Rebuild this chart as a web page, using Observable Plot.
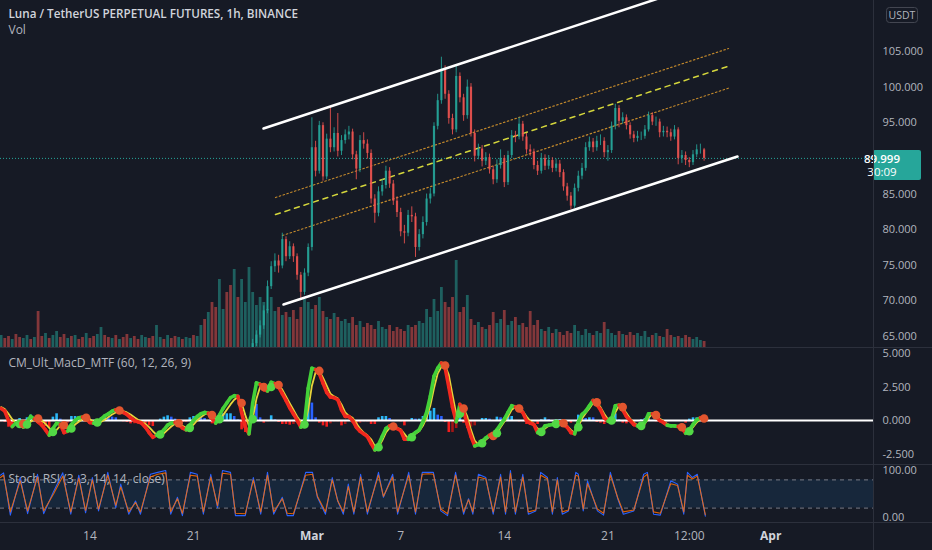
<!DOCTYPE html>
<html><head><meta charset="utf-8">
<script src="https://cdn.jsdelivr.net/npm/d3@7"></script>
<script src="https://cdn.jsdelivr.net/npm/@observablehq/plot@0.6"></script>
<style>
html,body{margin:0;padding:0;background:#161a25;}
#chart{position:relative;width:932px;height:550px;background:#161a25;overflow:hidden;font-family:"Open Sans",sans-serif;}
#chart svg{position:absolute;left:0;overflow:visible;}
.sep{position:absolute;background:#2c303c;}
</style></head><body>
<div id="chart"></div>
<script>
// ---------- DATA ----------
const HOUR = 3600e3;
const gridStart = Date.UTC(2022, 1, 8, 0);     // volume / MACD grid, 6h bins
const priceStart = Date.UTC(2022, 1, 25, 0);   // first visible candle, 6h bins
const binHours = 6;

const firstOpen = 63.2;
const closes = [
  64.0, 65.2, 66.5, 68.6, 72.0, 74.8, 75.6, 74.9, 78.6, 76.2,
  77.6, 76.2, 73.6, 71.2, 73.9, 77.5, 91.5, 88.2, 94.6, 87.4,
  92.7, 91.5, 93.5, 91.0, 92.5, 93.3, 93.7, 90.5, 88.5, 92.5,
  92.0, 90.7, 84.3, 82.3, 85.3, 86.2, 88.2, 86.4, 84.0, 82.4,
  79.7, 79.5, 82.0, 81.8, 77.5, 79.3, 81.0, 84.3, 85.0, 94.5,
  98.1, 102.5, 99.0, 95.6, 94.0, 101.5, 98.5, 96.0, 100.0, 93.5,
  90.3, 91.3, 89.6, 90.1, 88.4, 87.0, 89.0, 90.0, 86.6, 90.4,
  93.2, 93.0, 94.8, 93.0, 91.2, 90.9, 89.0, 88.2, 90.0, 88.9,
  89.7, 88.6, 89.2, 88.0, 86.0, 84.7, 83.3, 85.8, 87.5, 88.6,
  91.5, 92.3, 91.5, 92.4, 92.4, 90.8, 91.1, 94.5, 97.0, 95.2,
  95.7, 94.6, 93.3, 92.8, 93.1, 93.1, 94.0, 96.0, 95.1, 95.1,
  93.6, 93.8, 93.6, 93.0, 94.0, 90.0, 90.4, 89.7, 89.4, 90.5,
  91.2, 91.2, 89.999
];
const highs = [
  64.6, 65.8, 67.2, 69.3, 72.8, 75.5, 76.6, 76.4, 79.5, 79.0,
  78.3, 78.0, 76.6, 74.0, 74.5, 78.0, 95.7, 92.4, 95.2, 95.0,
  93.4, 97.1, 94.3, 96.3, 93.2, 94.0, 94.5, 94.1, 91.0, 93.2,
  93.6, 92.6, 91.2, 84.9, 86.0, 87.0, 88.9, 88.7, 86.9, 84.6,
  83.0, 80.6, 82.7, 83.2, 82.3, 80.0, 81.8, 85.0, 85.8, 95.0,
  99.0, 104.2, 103.0, 99.5, 96.2, 103.0, 102.0, 99.0, 101.0, 100.5,
  94.0, 92.0, 91.8, 90.8, 90.6, 88.9, 89.8, 91.2, 90.4, 91.0,
  93.9, 93.8, 95.7, 95.2, 93.5, 91.9, 91.3, 89.6, 90.7, 90.5,
  90.4, 90.1, 89.9, 89.7, 88.4, 86.5, 85.2, 86.4, 88.2, 89.3,
  92.2, 93.0, 92.8, 93.1, 93.3, 92.9, 91.8, 95.1, 97.6, 97.4,
  96.4, 96.1, 95.0, 93.8, 93.8, 93.7, 94.6, 96.5, 96.4, 95.8,
  95.5, 94.5, 94.4, 94.1, 94.6, 94.3, 91.1, 90.9, 90.1, 91.1,
  91.9, 92.0, 91.4
];
const lows = [
  62.8, 63.6, 64.8, 66.0, 68.2, 71.6, 74.0, 73.9, 74.5, 75.5,
  75.8, 75.4, 72.9, 70.2, 70.8, 73.4, 77.0, 87.4, 87.8, 86.8,
  87.0, 90.8, 90.9, 90.2, 90.4, 92.0, 92.6, 89.8, 87.0, 88.0,
  91.3, 89.9, 83.6, 80.9, 81.8, 84.7, 85.7, 85.8, 83.4, 81.7,
  79.0, 78.0, 79.0, 81.0, 76.1, 77.0, 78.7, 80.5, 83.6, 84.6,
  94.0, 97.6, 98.3, 94.8, 93.3, 93.6, 97.8, 95.2, 95.5, 93.0,
  89.5, 89.8, 88.8, 89.0, 87.8, 86.3, 86.5, 88.5, 85.9, 86.2,
  90.0, 92.2, 92.6, 92.4, 90.6, 90.3, 88.4, 87.6, 87.8, 88.3,
  88.4, 88.0, 88.1, 87.3, 85.4, 84.0, 82.8, 83.0, 85.3, 87.0,
  88.2, 91.0, 90.8, 91.0, 91.8, 90.1, 89.6, 90.7, 94.0, 94.3,
  94.8, 94.0, 92.7, 92.2, 92.3, 92.5, 92.7, 93.7, 94.6, 94.5,
  92.9, 93.0, 92.9, 92.4, 92.6, 89.1, 89.3, 89.0, 88.7, 89.0,
  90.1, 90.6, 89.6
];
const lastPrice = 89.999;
const countdown = "30:09";

const volumes = [
  12, 9, 11, 8, 13, 10, 9, 12, 8, 10,
  36, 11, 14, 9, 12, 16, 10, 13, 9, 11,
  12, 8, 10, 14, 9, 11, 13, 20, 12, 10,
  9, 12, 8, 10, 13, 9, 11, 8, 12, 10,
  9, 11, 22, 10, 8, 12, 9, 11, 10, 8,
  10, 9, 12, 11, 22,
  28, 35, 45, 40, 68, 38, 55, 62, 78,
  50, 68, 45, 80, 55, 42, 50,
  45, 38, 50, 36, 40, 32, 35, 30, 37, 28,
  40, 48, 45, 38, 42, 50, 36, 30, 28, 34,
  30, 26, 28, 24, 30, 22, 26, 20, 24,
  22, 18, 26, 20, 18, 22, 16, 20, 18, 16, 22,
  20, 22, 26, 24, 38, 30, 48, 36, 60, 45, 40, 50, 87, 35, 40,
  52, 28, 22, 25, 20, 18, 22, 35, 24, 28, 37, 22, 26, 30, 22,
  24, 20, 36, 22, 27, 18, 16, 20, 14, 18,
  15, 12, 16, 14, 22, 16, 12, 18, 14, 12, 16, 14, 25, 18, 14, 12, 16, 13, 12, 15,
  12, 14, 11, 16, 10, 12, 14, 11, 10, 18, 12, 10, 11, 9, 12, 10, 8, 10, 7, 6
];
// direction of the volume bars before the first visible candle (u = up, d = down)
const earlyVolDir = "uddudduudu" + "dduduuddud" + "uddudduudd" + "ududdudduu" + "dduududdud" + "uuduududdu" + "udduduuu";

const macdLine = [
  0.9, 0.7, 0.0, -0.45, -0.2, -0.1, -0.5, -0.1, 0.3, 0.1,
  -0.1, -0.35, -0.7, -1.1, -0.6, -0.2, -0.3, -0.9, -0.8, -0.3,
  0.0, 0.2, 0.25, 0.1, -0.15, -0.2, -0.1, 0.1, 0.35, 0.5,
  0.7, 0.8, 0.7, 0.6, 0.45, 0.2, 0.0, -0.1, -0.2, -0.5,
  -0.9, -1.25, -1.1, -0.95, -0.7, -0.35, -0.2, -0.15, -0.3, -0.55,
  -0.7, -0.35, 0.0, 0.3, 0.5, 0.6, 0.55, 0.15, -0.2, 0.4,
  0.9, 1.3, 1.7, 1.85, 1.8, 0.6, -0.5, -1.0, 1.3, 2.8,
  2.7, 2.3, 2.2, 2.85, 2.75, 2.5, 2.0, 1.5, 0.95, 0.5,
  0.05, -0.5, -0.2, 2.4, 3.9, 3.8, 3.5, 2.8, 2.1, 1.75,
  1.7, 1.55, 0.8, 0.3, 0.3, 0.0, -0.5, -0.8, -1.0, -1.2,
  -1.7, -2.2, -1.8, -1.2, -0.6, -0.4, -0.5, -0.6, -0.75, -1.4,
  -1.4, -1.1, -0.9, -0.7, -0.1, 0.6, 1.8, 3.3, 3.9, 4.3,
  3.95, 2.5, 1.0, -0.1, 1.2, 0.7, -0.3, -1.2, -1.9, -1.8,
  -1.55, -1.3, -1.1, -1.2, -0.7, -0.3, 0.1, 0.6, 1.1, 1.0,
  0.8, 0.6, 0.0, -0.2, -0.3, -0.9, -0.8, -0.4, -0.35, -0.3,
  -0.2, -0.1, -0.3, -0.5, -0.9, -1.0, -0.1, 0.45, 0.7, 1.1,
  1.5, 1.2, 0.8, 0.2, -0.05, 0.1, 1.1, 1.15, 0.8, 0.3,
  0.0, -0.3, -0.4, -0.35, -0.1, 0.5, 0.5, 0.3, 0.0, -0.15,
  -0.35, -0.4, -0.4, -0.45, -0.55, -0.95, -0.7, -0.3, 0.05, 0.2,
  0.1
];
const signalLine = [
  1.0, 0.85, 0.5, 0.1, -0.2, -0.25, -0.25, -0.3, -0.1, 0.1,
  0.15, 0.0, -0.25, -0.55, -0.85, -0.7, -0.4, -0.35, -0.6, -0.6,
  -0.3, -0.1, 0.1, 0.2, 0.1, -0.1, -0.15, -0.1, 0.05, 0.25,
  0.45, 0.6, 0.75, 0.7, 0.6, 0.45, 0.25, 0.05, -0.1, -0.25,
  -0.5, -0.8, -1.05, -1.05, -0.95, -0.7, -0.45, -0.25, -0.2, -0.4,
  -0.55, -0.55, -0.3, 0.0, 0.25, 0.45, 0.55, 0.4, 0.1, 0.1,
  0.4, 0.8, 1.2, 1.55, 1.75, 1.3, 0.4, -0.4, 0.1, 1.6,
  2.5, 2.5, 2.3, 2.5, 2.7, 2.65, 2.3, 1.8, 1.3, 0.8,
  0.3, -0.1, -0.3, 0.8, 2.6, 3.6, 3.7, 3.2, 2.6, 2.0,
  1.8, 1.65, 1.2, 0.6, 0.35, 0.2, -0.2, -0.6, -0.9, -1.1,
  -1.4, -1.9, -2.0, -1.5, -0.9, -0.55, -0.45, -0.55, -0.65, -1.0,
  -1.35, -1.25, -1.0, -0.8, -0.4, 0.2, 1.1, 2.4, 3.5, 4.0,
  4.1, 3.4, 1.9, 0.5, 0.5, 0.9, 0.3, -0.7, -1.5, -1.8,
  -1.7, -1.45, -1.2, -1.15, -0.95, -0.5, -0.1, 0.3, 0.8, 1.0,
  0.9, 0.7, 0.3, -0.05, -0.25, -0.6, -0.85, -0.6, -0.4, -0.3,
  -0.25, -0.15, -0.2, -0.4, -0.7, -0.95, -0.5, 0.15, 0.55, 0.9,
  1.3, 1.35, 1.0, 0.5, 0.1, 0.0, 0.6, 1.1, 1.0, 0.55,
  0.15, -0.15, -0.35, -0.4, -0.25, 0.2, 0.5, 0.4, 0.15, -0.05,
  -0.25, -0.4, -0.4, -0.45, -0.5, -0.75, -0.8, -0.5, -0.15, 0.1,
  0.15
];

// Stoch RSI turning points: hours after Feb 8 00:00 UTC
const stochHours = [
  -1, 4, 15, 31, 43, 59, 69, 85, 100, 113, 126, 137, 148, 158, 173, 186, 194, 207, 218, 226,
  242, 254, 267, 275, 286, 294, 307, 318, 328, 340, 351, 359, 372, 380, 396, 409, 421, 432, 442, 456,
  464, 474, 494, 505, 513, 526, 537, 546, 555, 563, 572, 583, 594, 612, 620, 635, 643, 661, 672, 683,
  693, 701, 713, 724, 737, 750, 758, 765, 774, 786, 798, 810, 818, 826, 834, 846, 855, 867, 875, 886,
  894, 902, 910, 920, 932, 936, 944, 951, 967, 977, 988, 1000, 1009, 1026, 1042, 1048, 1058, 1069, 1086, 1097,
  1107, 1113, 1121, 1129, 1142
];
const stochK = [
  90, 95, 5, 85, 8, 92, 8, 55, 95, 7, 90, 10, 85, 14, 96, 21, 71, 7, 35, 7,
  92, 96, 100, 7, 43, 4, 96, 92, 7, 92, 21, 100, 96, 4, 4, 85, 7, 96, 7, 43,
  4, 4, 96, 96, 43, 7, 85, 35, 7, 71, 7, 92, 7, 96, 43, 92, 7, 96, 7, 96,
  96, 96, 14, 4, 96, 7, 40, 7, 92, 85, 7, 92, 7, 100, 7, 92, 7, 14, 96, 85,
  7, 85, 7, 14, 96, 92, 14, 78, 14, 5, 96, 40, 7, 14, 92, 96, 7, 5, 78, 71,
  7, 96, 85, 92, 3
];
const stochD = [
  85, 90, 12, 78, 14, 86, 14, 50, 88, 12, 84, 15, 80, 18, 90, 26, 65, 12, 32, 12,
  86, 92, 95, 12, 40, 9, 90, 88, 12, 86, 25, 94, 92, 9, 8, 80, 12, 90, 12, 40,
  9, 8, 90, 92, 45, 12, 80, 35, 12, 66, 12, 86, 12, 90, 45, 86, 12, 90, 12, 92,
  93, 92, 18, 8, 90, 12, 38, 12, 86, 82, 12, 86, 12, 94, 12, 86, 12, 16, 90, 82,
  12, 80, 12, 16, 90, 88, 18, 72, 18, 9, 90, 42, 12, 16, 86, 92, 12, 9, 72, 68,
  12, 90, 82, 88, 6
];

// Channel drawings: [UTC date, price] end points
const upperChannel = [["2022-02-25T17:31Z", 94.19], ["2022-03-25T05:30Z", 113.0]];
const lowerChannel = [["2022-02-27T01:57Z", 69.49], ["2022-03-29T18:10Z", 90.26]];
const upperDotted  = [["2022-02-26T12:58Z", 84.51], ["2022-03-29T03:35Z", 105.42]];
const midDashed    = [["2022-02-26T12:58Z", 82.12], ["2022-03-29T06:49Z", 103.04]];
const lowerDotted  = [["2022-02-27T00:19Z", 79.18], ["2022-03-29T06:49Z", 99.95]];

// 90 and 110 sit under the price badge and the USDT badge in the reference
const priceTicks = [65, 70, 75, 80, 85, 95, 100, 105];
const macdTicks = [-2.5, 0, 2.5, 5];
const stochTicks = [0, 100];
const dayTickDates = ["2022-02-14", "2022-02-21", "2022-03-07", "2022-03-14", "2022-03-21", "2022-03-26T12:00Z"];
const dayTickLabels = ["14", "21", "7", "14", "21", "12:00"];
const monthTickDates = ["2022-03-01", "2022-04-01"];
const monthTickLabels = ["Mar", "Apr"];

const titleText = "Luna / TetherUS PERPETUAL FUTURES, 1h, BINANCE";
const volText = "Vol";
const macdText = "CM_Ult_MacD_MTF (60, 12, 26, 9)";
const stochText = "Stoch RSI (3, 3, 14, 14, close)";

// ---------- BUILD ----------
const BG = "#161a25";
const UP = "#26a69a", DOWN = "#ef5350";
const AXIS = "#b2b5be";
const FONT = "'Open Sans', sans-serif";
const xDomain = [new Date(Date.UTC(2022, 1, 7, 23, 2)), new Date(Date.UTC(2022, 3, 7, 22, 42))];
const W = 932, MR = 59;
const P = d => new Date(d);

const candles = closes.map((c, i) => ({
  t: new Date(priceStart + i * binHours * HOUR),
  o: i ? closes[i - 1] : firstOpen, c, h: highs[i], l: lows[i]
}));
const nEarly = Math.round((priceStart - gridStart) / (binHours * HOUR));
const volData = volumes.map((v, i) => {
  let up;
  if (i < nEarly) up = earlyVolDir[i] !== "d";
  else { const k = candles[i - nEarly]; up = k ? k.c >= k.o : true; }
  return { t: new Date(gridStart + i * binHours * HOUR), v, up };
});
const macdData = macdLine.map((m, i) => ({ t: new Date(gridStart + i * binHours * HOUR), m, s: signalLine[i], h: m - signalLine[i] }));
const segs = macdData.slice(1).map((d, i) => ({ a: macdData[i], b: d, bull: d.m >= d.s }));
const crosses = macdData.filter((d, i) => i > 0 && Math.sign(macdData[i - 1].h) !== Math.sign(d.h) && d.h !== 0)
  .map(d => ({ t: d.t, s: d.s, bull: d.h > 0 }));
const histColor = (d, i) => {
  const prev = i > 0 ? macdData[i - 1].h : d.h;
  if (d.h >= 0) return d.h >= prev ? "#29b6f6" : "#2962ff";
  return d.h < prev ? "#f21d1d" : "#a31515";
};
const stoch = stochHours.map((h, i) => ({ t: new Date(gridStart + h * HOUR), k: stochK[i], d: stochD[i] }));
const lineOf = arr => arr.map(([t, v]) => ({ t: P(t), v }));

const chart = document.getElementById("chart");
const baseStyle = { background: "transparent", color: AXIS, fontFamily: FONT, fontSize: "11px" };

// volume layer (own scale) under the price layer
const volPlot = Plot.plot({
  width: W, height: 347, margin: 0, marginRight: MR,
  style: baseStyle,
  x: { type: "utc", domain: xDomain, axis: null },
  y: { domain: [0, 347], axis: null },
  color: { type: "identity" },
  marks: [
    Plot.ruleX(volData, { x: "t", y1: 0, y2: "v", stroke: d => d.up ? "rgba(38,166,154,0.5)" : "rgba(239,83,80,0.5)", strokeWidth: 2.8 })
  ]
});
volPlot.style.top = "0px";
chart.appendChild(volPlot);

const mainPlot = Plot.plot({
  width: W, height: 347, margin: 0, marginRight: MR,
  style: baseStyle,
  x: { type: "utc", domain: xDomain, axis: null },
  y: { domain: [63.46, 112.16], axis: "right", ticks: priceTicks, tickFormat: d => d.toFixed(3), tickSize: 0, tickPadding: 9, label: null },
  color: { type: "identity" },
  marks: [
    Plot.text([titleText], { frameAnchor: "top-left", dx: 8, dy: 9, fill: "#d1d4dc", fontSize: 11.7, fontWeight: 600 }),
    Plot.text([volText], { frameAnchor: "top-left", dx: 8, dy: 25, fill: AXIS, fontSize: 12 }),
    Plot.ruleY([lastPrice], { stroke: UP, strokeDasharray: "1,2", strokeWidth: 1 }),
    Plot.line(lineOf(upperDotted), { x: "t", y: "v", stroke: "#c48a2c", strokeWidth: 1.2, strokeDasharray: "1.5,2.5", clip: true }),
    Plot.line(lineOf(midDashed), { x: "t", y: "v", stroke: "#d4d63c", strokeWidth: 1.5, strokeDasharray: "5,5", clip: true }),
    Plot.line(lineOf(lowerDotted), { x: "t", y: "v", stroke: "#c48a2c", strokeWidth: 1.2, strokeDasharray: "1.5,2.5", clip: true }),
    Plot.ruleX(candles, { x: "t", y1: "l", y2: "h", stroke: d => d.c >= d.o ? UP : DOWN, strokeWidth: 1, strokeOpacity: 0.85, clip: true }),
    Plot.ruleX(candles, { x: "t", y1: "o", y2: "c", stroke: d => d.c >= d.o ? UP : DOWN, strokeWidth: 2.2, strokeOpacity: 0.85, clip: true }),
    Plot.line(lineOf(upperChannel), { x: "t", y: "v", stroke: "#ffffff", strokeWidth: 2.5, clip: true }),
    Plot.line(lineOf(lowerChannel), { x: "t", y: "v", stroke: "#ffffff", strokeWidth: 2.5, clip: true })
  ]
});
mainPlot.style.top = "0px";
chart.appendChild(mainPlot);

// last price badge + currency badge, placed with the plot's own y scale
{
  const y = mainPlot.scale("y").apply(lastPrice);
  const x0 = mainPlot.scale("x").range[1];
  const svg = d3.select(mainPlot);
  const g = svg.append("g").attr("font-family", FONT);
  g.append("rect").attr("x", x0).attr("y", y - 8).attr("width", 48).attr("height", 30).attr("rx", 2).attr("fill", UP);
  g.append("text").attr("x", x0 + 9).attr("y", y + 5).attr("fill", "#ffffff").attr("font-size", 11.5).attr("font-weight", 600).text(lastPrice.toFixed(3));
  g.append("text").attr("x", x0 + 9).attr("y", y + 18.5).attr("fill", "#ffffff").attr("font-size", 11.5).text(countdown);
  g.append("rect").attr("x", x0 + 13.5).attr("y", 7.5).attr("width", 31).attr("height", 15).attr("rx", 3).attr("fill", BG).attr("stroke", "#434651");
  g.append("text").attr("x", x0 + 29).attr("y", 19).attr("text-anchor", "middle").attr("fill", AXIS).attr("font-size", 10.5).text("USDT");
}

const macdPlot = Plot.plot({
  width: W, height: 116, margin: 0, marginRight: MR,
  style: baseStyle,
  x: { type: "utc", domain: xDomain, axis: null },
  y: { domain: [-3.284, 5.373], axis: "right", ticks: macdTicks, tickFormat: d => d.toFixed(3), tickSize: 0, tickPadding: 9, label: null },
  color: { type: "identity" },
  marks: [
    Plot.text([macdText], { frameAnchor: "top-left", dx: 8, dy: 10, fill: AXIS, fontSize: 12 }),
    Plot.ruleX(macdData, { x: "t", y1: 0, y2: "h", stroke: histColor, strokeWidth: 2.6, clip: true }),
    Plot.ruleY([0], { stroke: "#ffffff", strokeWidth: 2 }),
    Plot.line(macdData, { x: "t", y: "s", stroke: "#e8d43a", strokeWidth: 1.8, clip: true }),
    Plot.link(segs, { x1: d => d.a.t, y1: d => d.a.m, x2: d => d.b.t, y2: d => d.b.m, stroke: d => d.bull ? "#43d138" : "#f0281e", strokeWidth: 3.6, strokeLinecap: "round", clip: true }),
    Plot.dot(crosses, { x: "t", y: "s", r: 4.3, fill: d => d.bull ? "#52d845" : "#e2552e", stroke: "none" })
  ]
});
macdPlot.style.top = "348px";
chart.appendChild(macdPlot);

const stochPlot = Plot.plot({
  width: W, height: 85, marginTop: 0, marginBottom: 28, marginLeft: 0, marginRight: MR,
  style: baseStyle,
  x: { type: "utc", domain: xDomain, axis: null },
  y: { domain: [-10.64, 110.64], axis: "right", ticks: stochTicks, tickFormat: d => d.toFixed(2), tickSize: 0, tickPadding: 9, label: null },
  color: { type: "identity" },
  marks: [
    Plot.rect([0], { x1: () => xDomain[0], x2: () => xDomain[1], y1: () => 20, y2: () => 80, fill: "rgba(33,150,243,0.11)" }),
    Plot.ruleY([20, 80], { stroke: "#787b86", strokeDasharray: "4,4", strokeWidth: 1 }),
    Plot.text([stochText], { frameAnchor: "top-left", dx: 8, dy: 9, fill: AXIS, fontSize: 12 }),
    Plot.line(stoch, { x: "t", y: "k", stroke: "#2962ff", strokeWidth: 1.1, clip: true }),
    Plot.line(stoch, { x: "t", y: "d", stroke: "#ff6d00", strokeWidth: 1.1, strokeOpacity: 0.85, clip: true }),
    Plot.text(dayTickDates, { x: d => P(d), text: (d, i) => dayTickLabels[i], frameAnchor: "bottom", lineAnchor: "middle", dy: 14, fill: AXIS, fontSize: 12 }),
    Plot.text(monthTickDates, { x: d => P(d), text: (d, i) => monthTickLabels[i], frameAnchor: "bottom", lineAnchor: "middle", dy: 14, fill: "#d1d4dc", fontSize: 12, fontWeight: 700 })
  ]
});
stochPlot.style.top = "465px";
chart.appendChild(stochPlot);

// pane separators and price-scale border
[[0, 347, W, 1], [0, 464, W, 1], [0, 522, W, 1], [873, 0, 1, 550]].forEach(([l, t, w, h]) => {
  const d = document.createElement("div");
  d.className = "sep";
  Object.assign(d.style, { left: l + "px", top: t + "px", width: w + "px", height: h + "px" });
  chart.appendChild(d);
});
</script>
</body></html>
